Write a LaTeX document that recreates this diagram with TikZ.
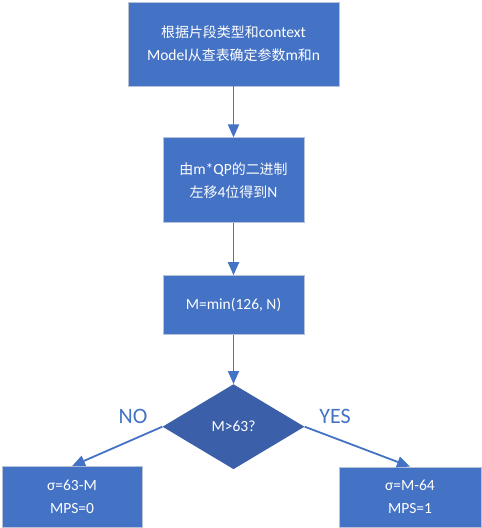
\documentclass[tikz,border=0pt]{standalone}
\usepackage{fontspec}
\setmainfont{Carlito}
\newfontfamily\cjk[Scale=0.9]{Noto Sans CJK SC}
\usetikzlibrary{positioning,shapes.geometric,arrows.meta}
\definecolor{boxblue}{HTML}{4472C4}
\definecolor{darkblue}{HTML}{3B60A9}
\definecolor{edgegray}{HTML}{B8C2D6}
\tikzset{
  flowbox/.style={rectangle, fill=boxblue, draw=edgegray, line width=0.8pt,
    text=white, align=center, font=\fontsize{15.5}{23}\selectfont, inner sep=0pt},
  flowarrow/.style={draw=boxblue, line width=1.8pt, -{Triangle[width=11pt,length=13pt]}},
  branchlabel/.style={text=boxblue, font=\fontsize{22}{24}\selectfont}
}
\begin{document}
\begin{tikzpicture}[x=1pt, y=1pt, node distance=51pt]
  \useasboundingbox (0,0) rectangle (482,-528);
  \node [flowbox, minimum width=211pt, minimum height=84pt] (lookup) at (233.5,-44)
    {{\cjk 根据片段类型和}context\\Model{\cjk 从查表确定参数}m{\cjk 和}n};
  \node [flowbox, minimum width=141pt, minimum height=85pt, below=of lookup] (shift)
    {{\cjk 由}m*QP{\cjk 的二进制}\\{\cjk 左移}4{\cjk 位得到}N};
  \node [flowbox, minimum width=141pt, minimum height=59pt, below=52pt of shift] (clip)
    {M=min(126, N)};
  \node [diamond, fill=darkblue, text=white, inner sep=0pt, aspect=1.67,
    minimum width=142pt, minimum height=85pt, font=\fontsize{15.5}{17}\selectfont,
    below=49pt of clip] (test) {M>63?};
  \node [flowbox, minimum width=140pt, minimum height=61pt] (nobox) at (72,-497)
    {σ=63-M\\MPS=0};
  \node [flowbox, minimum width=142pt, minimum height=60pt] (yesbox) at (410,-497)
    {σ=M-64\\MPS=1};
  \node [branchlabel] (nolabel) at (133,-416) {NO};
  \node [branchlabel] (yeslabel) at (335,-416) {YES};
  \draw [flowarrow] (lookup) -- (shift);
  \draw [flowarrow] (shift) -- (clip);
  \draw [flowarrow] (clip) -- (test);
  \draw [flowarrow] (test.west) -- (nobox.north);
  \draw [flowarrow] (test.east) -- (yesbox.north);
\end{tikzpicture}
\end{document}
